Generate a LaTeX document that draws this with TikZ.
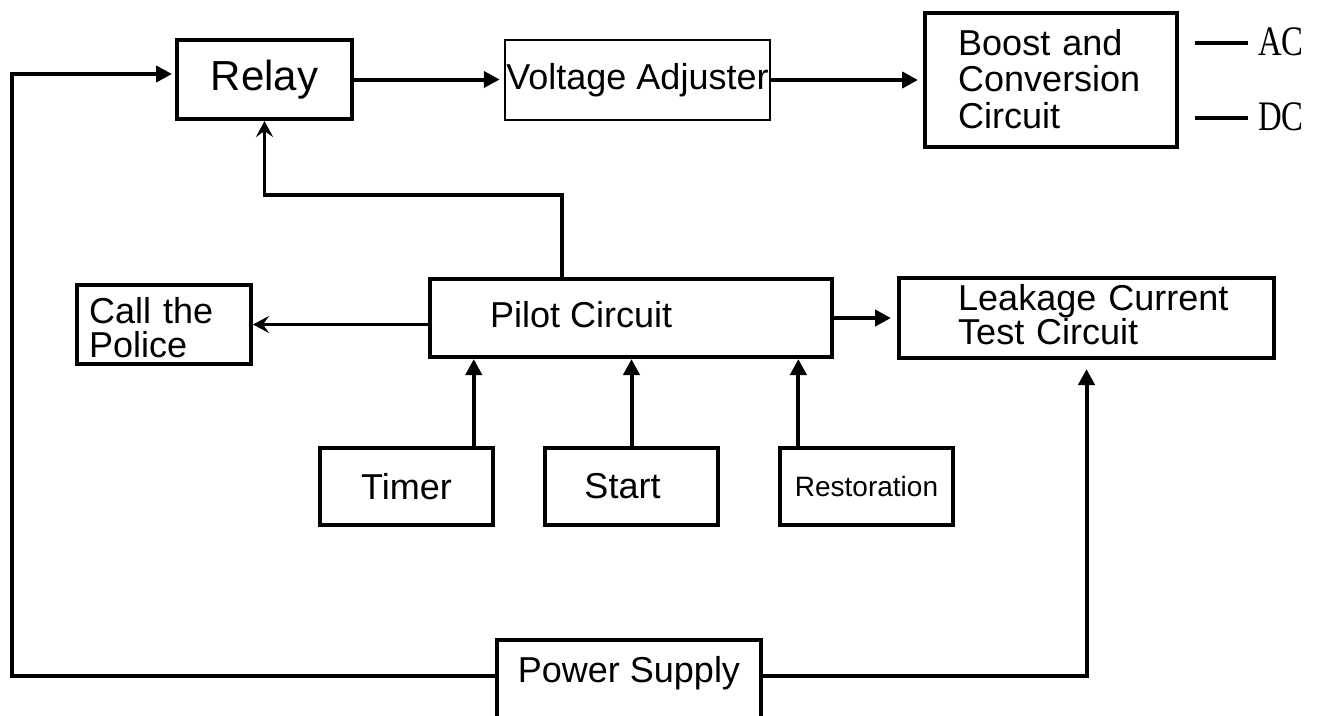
\documentclass[tikz,border=0pt]{standalone}
\usepackage{fontspec}
\setmainfont{Liberation Sans}
\newfontfamily\acfont{Liberation Serif}
\usetikzlibrary{arrows.meta,calc}
\begin{document}
\begin{tikzpicture}[x=1pt,y=-1pt,
  box/.style={draw, line width=4pt, inner sep=0pt, font=\fontsize{36}{34.5}\selectfont},
  thinbox/.style={box, line width=2.5pt},
  lbl/.style={inner sep=0pt, anchor=base west, align=left, font=\fontsize{36}{34.5}\selectfont},
  conn/.style={line width=4pt, -{Triangle[length=16pt,width=16pt]}},
  conn2/.style={line width=3.5pt, -{Stealth[length=16pt,width=17pt,inset=6pt]}},
  outline/.style={line width=4pt},
  acdc/.style={inner sep=0pt, anchor=base west, font=\acfont\fontsize{42}{42}\selectfont}
]
\useasboundingbox (0,0) rectangle (1320,715);
\fill[white] (0,0) rectangle (1320,715);
\clip (0,0) rectangle (1320,715);

% boxes
\node[box, minimum width=175pt, minimum height=79pt, font=\fontsize{42}{42}\selectfont] (relay) at (264.5,79.5) {Relay};
\node[thinbox, minimum width=265pt, minimum height=80pt] (va) at (637.5,80) {Voltage Adjuster};
\node[box, minimum width=252pt, minimum height=134pt] (boost) at (1051,80) {};
\node[lbl, text width=250pt, font=\fontsize{36}{36.5}\selectfont] (boostT) at (958,55) {Boost and\\Conversion\\Circuit};

\node[box, minimum width=174pt, minimum height=79pt] (police) at (164,324.5) {};
\node[lbl, text width=160pt, font=\fontsize{36}{34}\selectfont] (policeT) at (89,323) {Call the\\Police};

\node[box, minimum width=402pt, minimum height=78pt] (pilot) at (631,318) {};
\node[lbl] (pilotT) at (490,327) {Pilot Circuit};

\node[box, minimum width=375pt, minimum height=80pt] (leak) at (1086.5,318) {};
\node[lbl, text width=320pt, font=\fontsize{36}{33}\selectfont] (leakT) at (958,310) {Leakage Current\\Test Circuit};

\node[box, minimum width=173pt, minimum height=77pt] (timer) at (406.5,486.5) {Timer};
\node[box, minimum width=173pt, minimum height=77pt] (start) at (631.5,486.5) {\hspace*{-18pt}Start};
\node[box, minimum width=173pt, minimum height=77pt, font=\fontsize{28}{28}\selectfont] (rest) at (866.5,486.5) {Restoration};

\node[box, minimum width=264pt, text height=42pt, text depth=58pt] (ps) at (629,690) {Power Supply};

% AC / DC outputs
\coordinate (acA) at (1195,43);
\coordinate (acB) at (1248,43);
\coordinate (dcA) at (1195,118);
\coordinate (dcB) at (1248,118);
\draw[outline] (acA) -- (acB);
\draw[outline] (dcA) -- (dcB);
\node[acdc] (ac) at (1258,55) {\scalebox{0.78}[1]{AC}};
\node[acdc] (dc) at (1258,130) {\scalebox{0.78}[1]{DC}};

% connectors
\draw[conn, shorten >=4pt] (relay.east) -- (relay.east -| va.west);
\draw[conn, shorten >=5pt] (va.east) -- (boost.west);

\coordinate (psW) at ($(ps.north west)!0.37!(ps.south west)$);
\coordinate (psE) at ($(ps.north east)!0.37!(ps.south east)$);
\coordinate (loopTL) at (12,74);
\draw[conn, shorten >=3pt] (psW) -| (loopTL) -- (loopTL -| relay.west);
\draw[conn, shorten >=9pt] (psE) -| (leak.south);

\coordinate (pilotUp) at ($(pilot.north west)!0.33!(pilot.north east)$);
\draw[conn2] (pilotUp) -- ++(0,-82) -| (relay.south);
\draw[conn2] (police.east -| pilot.west) -- (police.east);
\draw[conn, shorten >=6pt] (pilot.east) -- (leak.west);

\coordinate (timerUp) at ($(timer.north west)!0.88!(timer.north east)$);
\coordinate (restUp) at ($(rest.north west)!0.115!(rest.north east)$);
\draw[conn] (timerUp) -- (timerUp |- pilot.south);
\draw[conn] (start.north) -- (start.north |- pilot.south);
\draw[conn] (restUp) -- (restUp |- pilot.south);
\end{tikzpicture}
\end{document}
